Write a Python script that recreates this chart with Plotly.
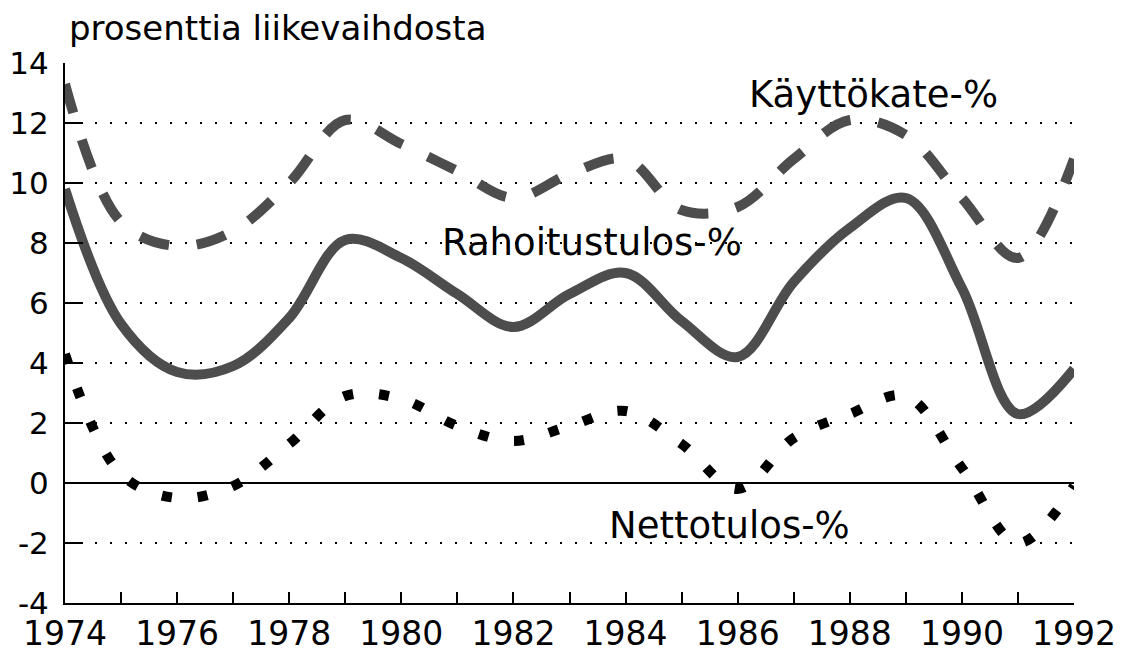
import plotly.graph_objects as go

# vuodet ja arvot (luettu kuvasta)
years = list(range(1974, 1993))
kayttokate = [13.3, 8.7, 7.9, 8.4, 10.0, 12.1, 11.3, 10.4, 9.5, 10.3, 10.8,
              9.1, 9.2, 10.8, 12.1, 11.6, 9.5, 7.5, 10.8]
rahoitustulos = [9.8, 5.3, 3.7, 3.9, 5.5, 8.1, 7.5, 6.3, 5.2, 6.3, 7.0,
                 5.4, 4.2, 6.7, 8.5, 9.5, 6.5, 2.3, 3.8]
nettotulos = [4.3, 0.3, -0.5, -0.1, 1.3, 2.9, 2.8, 1.9, 1.4, 1.9, 2.4,
              1.3, -0.2, 1.5, 2.3, 2.9, 0.5, -2.0, -0.1]
x_tick_labels = [str(y) if y % 2 == 0 else "" for y in years]
y_ticks = [-4, -2, 0, 2, 4, 6, 8, 10, 12, 14]
y_tick_labels = ["-4", "-2", "0", "2", "4", "6", "8", "10", "12", "14"]

FONT = "DejaVu Sans"
grey = "#4d4d4d"

fig = go.Figure()

fig.add_trace(go.Scatter(
    x=years, y=kayttokate, mode="lines",
    line=dict(color=grey, width=10, dash="30px,28px", shape="spline",
              smoothing=1.0),
    hoverinfo="skip"))

fig.add_trace(go.Scatter(
    x=years, y=rahoitustulos, mode="lines",
    line=dict(color=grey, width=10, shape="spline", smoothing=1.0),
    hoverinfo="skip"))

fig.add_trace(go.Scatter(
    x=years, y=nettotulos, mode="lines",
    line=dict(color="black", width=10, dash="10px,26px", shape="spline",
              smoothing=1.0),
    hoverinfo="skip"))

# tekstit
fig.add_annotation(x=0.002, y=1.064, xref="paper", yref="paper",
                   text="prosenttia liikevaihdosta", showarrow=False,
                   xanchor="left", yanchor="middle",
                   font=dict(family=FONT, size=34, color="black"))
fig.add_annotation(x=1988.43, y=12.96, text="Käyttökate-%", showarrow=False,
                   font=dict(family=FONT, size=37, color="black"))
fig.add_annotation(x=1983.4, y=8.03, text="Rahoitustulos-%", showarrow=False,
                   font=dict(family=FONT, size=37, color="black"))
fig.add_annotation(x=1985.86, y=-1.41, text="Nettotulos-%", showarrow=False,
                   font=dict(family=FONT, size=37, color="black"))

# sivun oletusmarginaali (8px) huomioitu koossa
fig.update_layout(
    width=1117, height=644,
    margin=dict(l=57, r=51, t=55, b=49, autoexpand=False),
    paper_bgcolor="white", plot_bgcolor="white",
    showlegend=False,
    xaxis=dict(
        range=[1974, 1992], tickvals=years, ticktext=x_tick_labels,
        ticks="inside", ticklen=11, tickwidth=2, tickcolor="black",
        showline=True, linewidth=2, linecolor="black",
        showgrid=False, zeroline=False, ticklabelstandoff=0,
        automargin=False,
        tickfont=dict(family=FONT, size=33, color="black")),
    yaxis=dict(
        range=[-4, 14], tickvals=y_ticks, ticktext=y_tick_labels,
        ticks="inside", ticklen=18, tickwidth=2, tickcolor="black",
        showline=True, linewidth=2, linecolor="black",
        showgrid=True, gridcolor="black", gridwidth=2, griddash="2px,13px",
        zeroline=True, zerolinecolor="black", zerolinewidth=2,
        ticklabelstandoff=8, automargin=False,
        tickfont=dict(family=FONT, size=31, color="black")),
)

fig.write_html("out.html")
